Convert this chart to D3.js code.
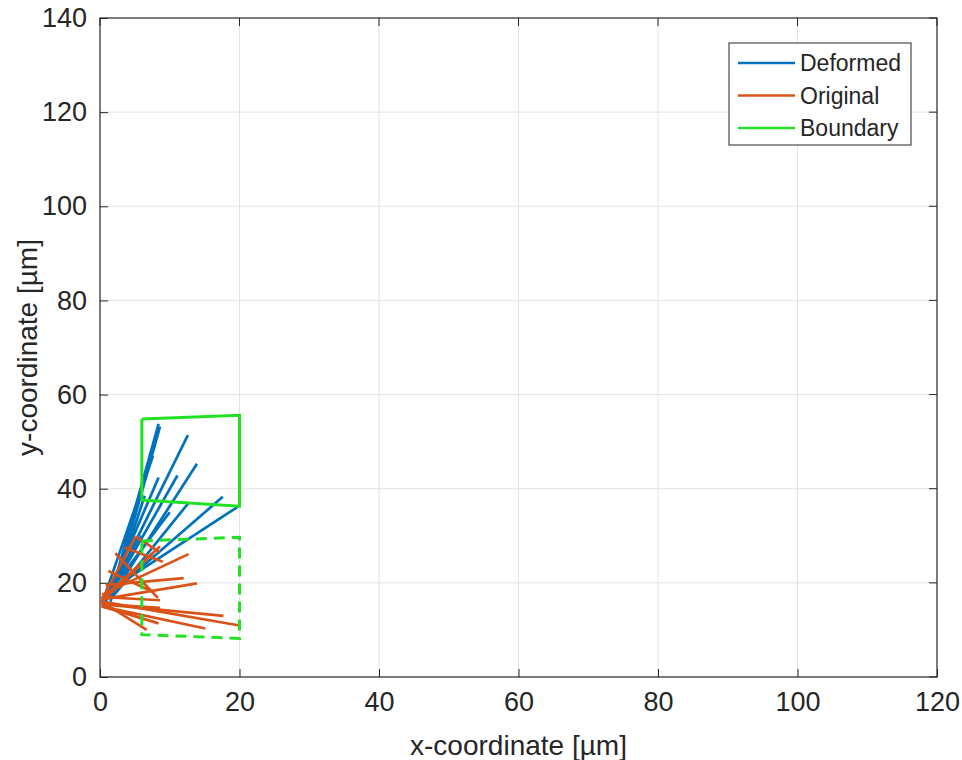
<!DOCTYPE html>
<html>
<head>
<meta charset="utf-8">
<script src="https://cdn.jsdelivr.net/npm/d3@7"></script>
<style>
  body { margin: 0; background: #fff; }
  text { font-family: "Liberation Sans", Arial, sans-serif; fill: #262626; }
</style>
</head>
<body>
<div id="canva"></div>
<script>
// segments as [x1, y1, x2, y2] in µm
const deformed = [
  [1.5, 17.0, 8.4, 53.8],
  [2.0, 18.0, 8.6, 53.2],
  [1.0, 16.5, 12.6, 51.4],
  [2.5, 19.0, 13.9, 45.3],
  [0.5, 16.5, 7.6, 47.0],
  [1.2, 17.5, 8.4, 42.4],
  [0.8, 16.0, 11.1, 42.8],
  [1.5, 16.0, 6.4, 38.5],
  [1.8, 17.0, 12.7, 37.0],
  [0.8, 17.0, 10.0, 35.0],
  [2.2, 18.5, 17.6, 38.3],
  [3.0, 20.0, 19.8, 36.2],
  [1.0, 18.0, 6.0, 30.0]
];

const original = [
  [0.3, 16.5, 5.1, 29.8],
  [0.5, 17.0, 8.6, 27.7],
  [0.2, 16.0, 7.6, 26.3],
  [0.3, 17.5, 12.7, 26.1],
  [0.2, 16.5, 13.9, 19.9],
  [0.2, 17.0, 8.6, 16.3],
  [0.2, 15.5, 17.7, 13.0],
  [0.3, 16.0, 19.8, 11.0],
  [0.2, 15.0, 15.1, 10.3],
  [0.2, 15.5, 8.6, 14.7],
  [0.3, 15.0, 8.4, 11.4],
  [0.2, 16.0, 6.7, 10.0],
  [5.1, 29.8, 8.5, 26.6],
  [2.2, 26.3, 8.3, 16.8],
  [1.2, 22.5, 7.0, 18.5],
  [3.5, 27.5, 9.0, 24.5],
  [0.8, 19.5, 12.0, 21.0]
];

const boundaryX = [6, 20, 20, 6, 6];
const boundaryDeformedY = [54.8, 55.6, 36.3, 37.6, 54.8];
const boundaryOriginalY = [28.9, 29.7, 8.2, 9.0, 28.9];

const xTicks = [0, 20, 40, 60, 80, 100, 120];
const yTicks = [0, 20, 40, 60, 80, 100, 120, 140];
const legendNames = ['Deformed', 'Original', 'Boundary'];

const blue = '#0072BD';
const orange = '#D95319';
const green = '#22e022';

const width = 962;
const height = 760;
const plotLeft = 100, plotRight = 937, plotTop = 18, plotBottom = 677;

const svg = d3.select('#canva')
              .append('svg')
              .attr('width', width)
              .attr('height', height);

const xScale = d3.scaleLinear().domain([0, 120]).range([plotLeft, plotRight]);
const yScale = d3.scaleLinear().domain([0, 140]).range([plotBottom, plotTop]);

// grid
svg.append('g')
   .selectAll('line')
   .data(xTicks.slice(1, -1))
   .enter()
   .append('line')
   .attr('x1', d => xScale(d)).attr('x2', d => xScale(d))
   .attr('y1', plotTop).attr('y2', plotBottom)
   .attr('stroke', '#e3e3e3').attr('stroke-width', 1);

svg.append('g')
   .selectAll('line')
   .data(yTicks.slice(1, -1))
   .enter()
   .append('line')
   .attr('x1', plotLeft).attr('x2', plotRight)
   .attr('y1', d => yScale(d)).attr('y2', d => yScale(d))
   .attr('stroke', '#e3e3e3').attr('stroke-width', 1);

// axes
const xAxis = d3.axisBottom(xScale).tickValues(xTicks).tickSizeInner(-8).tickSizeOuter(0).tickPadding(15);
const yAxis = d3.axisLeft(yScale).tickValues(yTicks).tickSizeInner(-8).tickSizeOuter(0).tickPadding(13);

const gx = svg.append('g').attr('transform', `translate(0, ${plotBottom})`).call(xAxis);
const gy = svg.append('g').attr('transform', `translate(${plotLeft}, 0)`).call(yAxis);
[gx, gy].forEach(g => {
  g.select('.domain').remove();
  g.selectAll('line').attr('stroke', '#262626').attr('stroke-width', 1);
  g.selectAll('text').style('font-size', '27px').attr('fill', '#262626')
   .style('font-family', '"Liberation Sans", Arial, sans-serif');
});

// top / right ticks
svg.append('g').selectAll('line')
   .data(xTicks).enter().append('line')
   .attr('x1', d => xScale(d)).attr('x2', d => xScale(d))
   .attr('y1', plotTop).attr('y2', plotTop + 8)
   .attr('stroke', '#262626');
svg.append('g').selectAll('line')
   .data(yTicks).enter().append('line')
   .attr('x1', plotRight).attr('x2', plotRight - 8)
   .attr('y1', d => yScale(d)).attr('y2', d => yScale(d))
   .attr('stroke', '#262626');

const lineGen = d3.line().x(d => xScale(d[0])).y(d => yScale(d[1]));

// fibres
svg.append('g').selectAll('line')
   .data(deformed).enter().append('line')
   .attr('x1', d => xScale(d[0])).attr('y1', d => yScale(d[1]))
   .attr('x2', d => xScale(d[2])).attr('y2', d => yScale(d[3]))
   .attr('stroke', blue).attr('stroke-width', 2.7);

svg.append('g').selectAll('line')
   .data(original).enter().append('line')
   .attr('x1', d => xScale(d[0])).attr('y1', d => yScale(d[1]))
   .attr('x2', d => xScale(d[2])).attr('y2', d => yScale(d[3]))
   .attr('stroke', orange).attr('stroke-width', 2.7);

// boundaries
svg.append('path')
   .datum(boundaryX.map((x, i) => [x, boundaryDeformedY[i]]))
   .attr('d', lineGen)
   .attr('fill', 'none').attr('stroke', green).attr('stroke-width', 3);

svg.append('path')
   .datum(boundaryX.map((x, i) => [x, boundaryOriginalY[i]]))
   .attr('d', lineGen)
   .attr('fill', 'none').attr('stroke', green).attr('stroke-width', 3)
   .attr('stroke-dasharray', '11,7');

// box
svg.append('rect')
   .attr('x', plotLeft).attr('y', plotTop)
   .attr('width', plotRight - plotLeft).attr('height', plotBottom - plotTop)
   .attr('fill', 'none').attr('stroke', '#262626').attr('stroke-width', 1.2);

// axis labels
svg.append('text')
   .attr('x', (plotLeft + plotRight) / 2).attr('y', 755)
   .attr('text-anchor', 'middle')
   .style('font-size', '28px')
   .text('x-coordinate [µm]');

svg.append('text')
   .attr('transform', `translate(37, ${(plotTop + plotBottom) / 2}) rotate(-90)`)
   .attr('text-anchor', 'middle')
   .style('font-size', '28px')
   .text('y-coordinate [µm]');

// legend
const legend = svg.append('g').attr('transform', 'translate(729, 43)');
legend.append('rect')
      .attr('width', 182).attr('height', 102)
      .attr('fill', '#fff').attr('stroke', '#262626').attr('stroke-width', 1);
const legendColors = [blue, orange, green];
legendNames.forEach((name, i) => {
  const y = 20 + i * 32.5;
  legend.append('line')
        .attr('x1', 9).attr('x2', 66).attr('y1', y).attr('y2', y)
        .attr('stroke', legendColors[i]).attr('stroke-width', 2.5);
  legend.append('text')
        .attr('x', 71).attr('y', y + 8)
        .style('font-size', '23px')
        .text(name);
});
</script>
</body>
</html>
